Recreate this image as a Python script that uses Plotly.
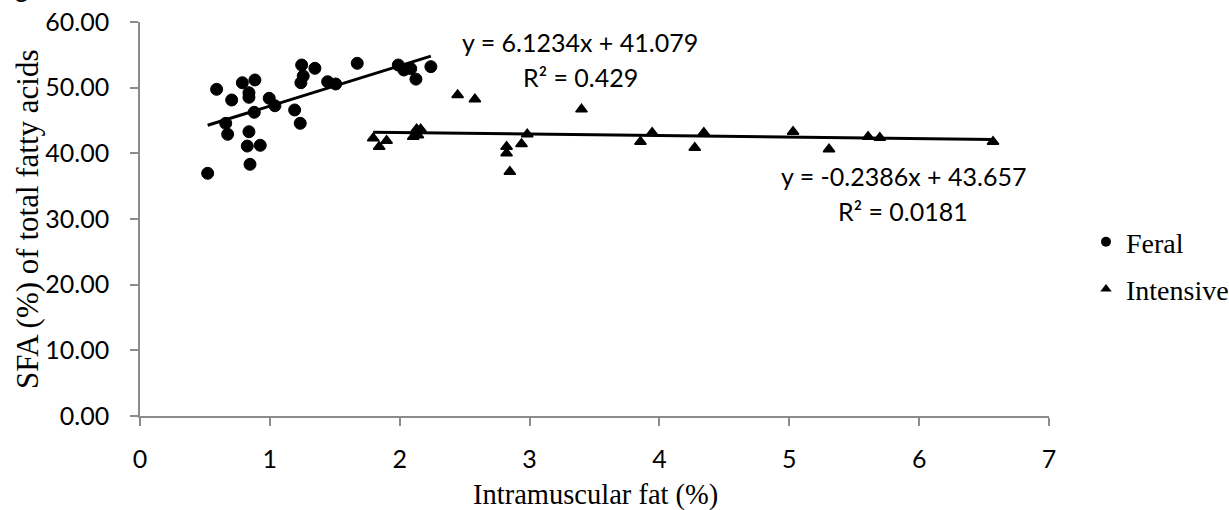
import numpy as np
import plotly.graph_objects as go

# ---- data ----
feral_x = [0.521, 0.590, 0.660, 0.675, 0.706, 0.788, 0.826, 0.839, 0.839, 0.839, 0.847,
           0.880, 0.885, 0.926, 0.995, 1.039, 1.191, 1.234, 1.239, 1.245, 1.257, 1.347,
           1.445, 1.507, 1.673, 1.989, 2.032, 2.085, 2.125, 2.240]
feral_y = [36.96, 49.75, 44.57, 42.90, 48.12, 50.75, 41.11, 49.23, 48.53, 43.29, 38.33,
           46.25, 51.17, 41.22, 48.38, 47.25, 46.60, 44.57, 50.75, 53.45, 51.77, 52.95,
           50.91, 50.56, 53.71, 53.45, 52.69, 52.90, 51.30, 53.20]

intensive_x = [1.796, 1.842, 1.899, 2.104, 2.140, 2.130, 2.161, 2.446, 2.579, 2.823, 2.823,
               2.848, 2.938, 2.982, 3.400, 3.854, 3.944, 4.272, 4.342, 5.029, 5.306,
               5.607, 5.697, 6.569]
intensive_y = [42.29, 41.01, 41.92, 42.53, 42.75, 43.66, 43.66, 48.88, 48.23, 41.01, 40.00,
               37.20, 41.42, 42.90, 46.70, 41.77, 43.14, 40.86, 43.14, 43.29, 40.61,
               42.53, 42.38, 41.77]

feral_slope, feral_intercept, feral_r2 = 6.1234, 41.079, "0.429"
int_slope, int_intercept, int_r2 = -0.2386, 43.657, "0.0181"

x_ticks = [0, 1, 2, 3, 4, 5, 6, 7]
y_ticks = [0, 10, 20, 30, 40, 50, 60]

SANS = "Lato"
SERIF = "Liberation Serif"
AXIS_COL = "#8c8c8c"

fig = go.Figure()

# scatter points
fig.add_trace(go.Scatter(x=feral_x, y=feral_y, mode="markers", showlegend=False,
                         marker=dict(symbol="circle", size=12, color="black",
                                     line=dict(color="black", width=1))))
fig.add_trace(go.Scatter(x=intensive_x, y=intensive_y, mode="markers", showlegend=False,
                         marker=dict(symbol="triangle-up", size=10, color="black",
                                     line=dict(color="black", width=1.5))))

# linear trendlines
fx = np.array([min(feral_x), max(feral_x)])
ix = np.array([min(intensive_x), max(intensive_x)])
fig.add_trace(go.Scatter(x=fx, y=feral_slope * fx + feral_intercept, mode="lines",
                         showlegend=False, line=dict(color="black", width=3)))
fig.add_trace(go.Scatter(x=ix, y=int_slope * ix + int_intercept, mode="lines",
                         showlegend=False, line=dict(color="black", width=3)))

# legend entries
fig.add_trace(go.Scatter(x=[None], y=[None], mode="markers", name="Feral", legendgroup="a",
                         marker=dict(symbol="circle", size=10, color="black")))
fig.add_trace(go.Scatter(x=[None], y=[None], mode="markers", name="Intensive", legendgroup="b",
                         marker=dict(symbol="triangle-up", size=10, color="black")))

ann = []
ann.append(dict(x=3.387, y=57.0, xref="x", yref="y", showarrow=False,
                text=f"y = {feral_slope}x + {feral_intercept}",
                font=dict(family=SANS, size=25, color="black")))
ann.append(dict(x=3.394, y=51.6, xref="x", yref="y", showarrow=False,
                text=f"R² = {feral_r2}",
                font=dict(family=SANS, size=25, color="black")))
ann.append(dict(x=5.882, y=36.55, xref="x", yref="y", showarrow=False,
                text=f"y = {int_slope}x + {int_intercept}",
                font=dict(family=SANS, size=25, color="black")))
ann.append(dict(x=5.874, y=31.2, xref="x", yref="y", showarrow=False,
                text=f"R² = {int_r2}",
                font=dict(family=SANS, size=25, color="black")))
# axis titles
ann.append(dict(x=(27 - 140) / 909, y=0.5, xref="paper", yref="paper", showarrow=False,
                textangle=-90, xanchor="center", yanchor="middle",
                text="SFA (%) of total fatty acids",
                font=dict(family=SERIF, size=31, color="black")))
ann.append(dict(x=(595 - 140) / 909, y=(416 - 495) / 394, xref="paper", yref="paper",
                showarrow=False, xanchor="center", yanchor="middle",
                text="Intramuscular fat (%)",
                font=dict(family=SERIF, size=28.5, color="black")))
# cropped caption fragment at top-left
ann.append(dict(x=(22 - 140) / 909, y=(416 - 5) / 394, xref="paper", yref="paper",
                showarrow=False, xanchor="center", yanchor="bottom", text="g",
                font=dict(family=SANS, size=26, color="black")))

fig.update_layout(
    width=1229, height=510, autosize=False,
    margin=dict(l=140, r=180, t=22, b=94, pad=0, autoexpand=False),
    paper_bgcolor="white", plot_bgcolor="white",
    annotations=ann,
    legend=dict(x=(1086 - 140) / 909, y=(416 - 217) / 394, xanchor="left", yanchor="top",
                font=dict(family=SERIF, size=28, color="black"),
                tracegroupgap=8, bgcolor="rgba(0,0,0,0)", borderwidth=0,
                traceorder="grouped"),
    xaxis=dict(range=[0, 7], tickvals=x_ticks, ticktext=[str(v) for v in x_ticks],
               showgrid=False, zeroline=False, showline=True, linecolor=AXIS_COL,
               linewidth=1.5, ticks="outside", ticklen=8, tickwidth=1.5, tickcolor=AXIS_COL,
               tickfont=dict(family=SANS, size=25, color="black"), ticklabelstandoff=12),
    yaxis=dict(range=[0, 60], tickvals=y_ticks, ticktext=[f"{v:.2f}" for v in y_ticks],
               showgrid=False, zeroline=False, showline=True, linecolor=AXIS_COL,
               linewidth=1.5, ticks="outside", ticklen=8, tickwidth=1.5, tickcolor=AXIS_COL,
               tickfont=dict(family=SANS, size=25, color="black"), ticklabelstandoff=16),
)

fig.write_html("out.html")
